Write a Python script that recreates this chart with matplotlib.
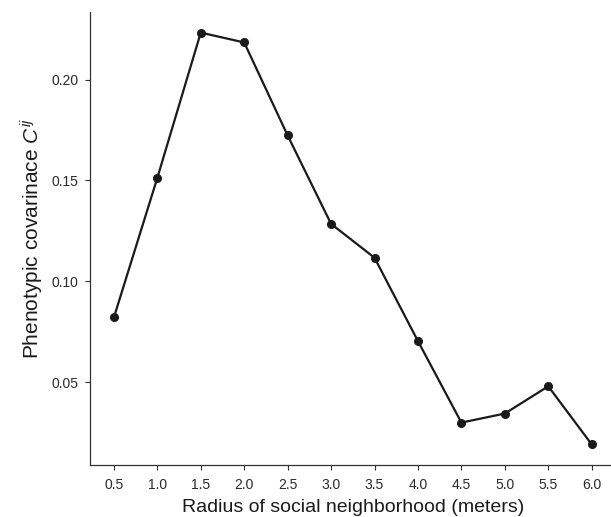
import matplotlib
matplotlib.use("Agg")
import matplotlib.pyplot as plt

radius = [0.5, 1.0, 1.5, 2.0, 2.5, 3.0, 3.5, 4.0, 4.5, 5.0, 5.5, 6.0]
covariance = [0.0821, 0.1513, 0.2233, 0.2184, 0.1723, 0.1285, 0.1117, 0.0704,
              0.0300, 0.0345, 0.0480, 0.0192]
y_ticks = [0.05, 0.10, 0.15, 0.20]

plt.rcParams['font.family'] = ['Liberation Sans', 'DejaVu Sans']
plt.rcParams['mathtext.fontset'] = 'custom'
plt.rcParams['mathtext.rm'] = 'Liberation Sans'
plt.rcParams['mathtext.it'] = 'Liberation Sans:italic'

fig = plt.figure(figsize=(6.11, 5.17), dpi=100)
ax = fig.add_axes([90 / 611, 52 / 517, 525.6 / 611, 453 / 517])

ax.plot(radius, covariance, color='#1a1a1a', linewidth=1.6,
        marker='o', markersize=5.5, markerfacecolor='#1a1a1a',
        markeredgecolor='#1a1a1a')

span = max(radius) - min(radius)
ax.set_xlim(min(radius) - 0.05 * span, max(radius) + 0.05 * span)
yspan = max(covariance) - min(covariance)
ax.set_ylim(min(covariance) - 0.05 * yspan, max(covariance) + 0.05 * yspan)

ax.set_xticks(radius)
ax.set_xticklabels([f"{r:.1f}" for r in radius])
ax.set_yticks(y_ticks)
ax.set_yticklabels([f"{v:.2f}" for v in y_ticks])

for side in ['top', 'right']:
    ax.spines[side].set_visible(False)
for side in ['left', 'bottom']:
    ax.spines[side].set_color('#333333')
    ax.spines[side].set_linewidth(0.9)

ax.tick_params(axis='both', direction='out', length=3.5, width=0.8,
               color='#333333', labelcolor='#2a2a2a', labelsize=10)
ax.tick_params(axis='x', pad=6)
ax.tick_params(axis='y', pad=5)

ax.set_xlabel("Radius of social neighborhood (meters)", fontsize=14,
              color='#1a1a1a', labelpad=5)
ax.set_ylabel(r"Phenotypic covarinace $\mathit{C}^{ij}$", fontsize=15,
              color='#1a1a1a', labelpad=4)

fig.savefig("out.png", dpi=100)
